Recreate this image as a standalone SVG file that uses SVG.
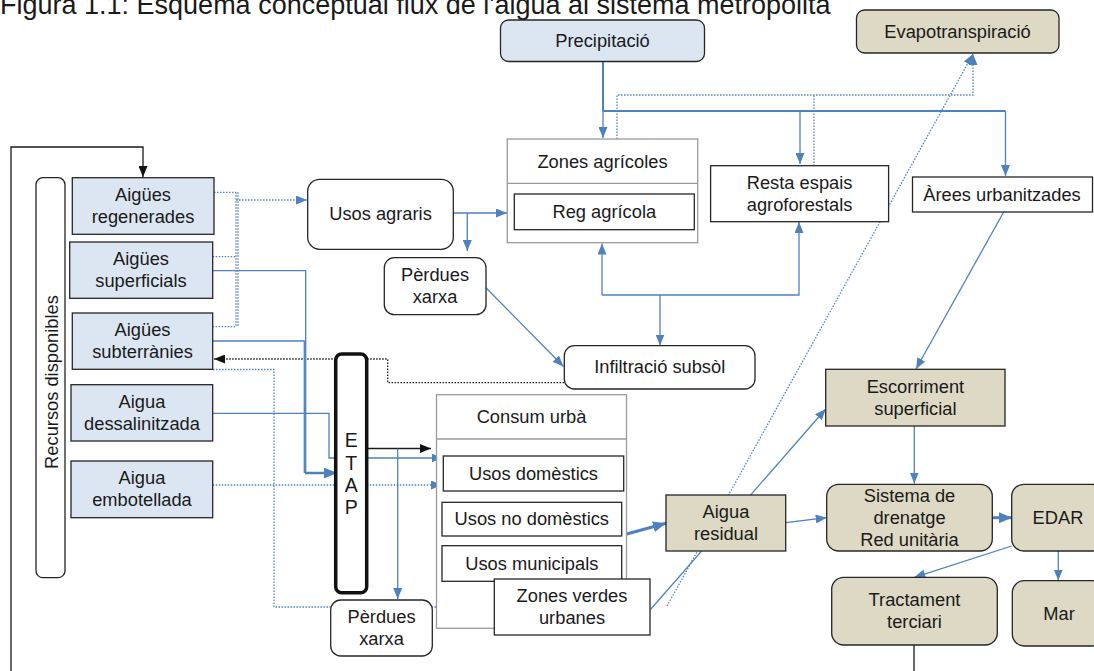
<svg xmlns="http://www.w3.org/2000/svg" width="1094" height="671" viewBox="0 0 1094 671">
<defs>
<style>
text{font-family:"Liberation Sans",Arial,sans-serif;font-size:18.3px;fill:#1a1a1a;text-anchor:middle}
.title{font-size:27px;text-anchor:start}
.etap{font-size:19.5px}
.nb{fill:#dce6f2;stroke:#262626;stroke-width:1.3}
.nt{fill:#ddd9c4;stroke:#262626;stroke-width:1.3}
.nw{fill:#fff;stroke:#262626;stroke-width:1.3}
.ng{fill:#fff;stroke:#9a9a9a;stroke-width:1.3}
.c{fill:none;stroke:#4f81bd;stroke-width:1.3}
.ct{fill:none;stroke:#4f81bd;stroke-width:3}
.cd{fill:none;stroke:#4f81bd;stroke-width:1.3;stroke-dasharray:1.5 1.5}
.kd{fill:none;stroke:#1a1a1a;stroke-width:1.3;stroke-dasharray:1.5 1.5}
.k{fill:none;stroke:#1a1a1a;stroke-width:1.3}
</style>
<marker id="ab" markerWidth="11" markerHeight="9" refX="11" refY="4.5" orient="auto" markerUnits="userSpaceOnUse"><path d="M0,0 L11,4.5 L0,9 z" fill="#4f81bd"/></marker>
<marker id="abt" markerWidth="13" markerHeight="11" refX="13" refY="5.5" orient="auto" markerUnits="userSpaceOnUse"><path d="M0,0 L13,5.5 L0,11 z" fill="#4f81bd"/></marker>
<marker id="ak" markerWidth="11" markerHeight="9" refX="11" refY="4.5" orient="auto" markerUnits="userSpaceOnUse"><path d="M0,0 L11,4.5 L0,9 z" fill="#111"/></marker>
</defs>
<rect width="1094" height="671" fill="#fff"/>
<text class="title" x="0" y="14">Figura 1.1: Esquema conceptual flux de l'aigua al sistema metropolità</text>

<g id="connectors">
<path class="k" d="M914,645 V671"/>
<path class="k" d="M11,671 V147 H143 V177" marker-end="url(#ak)"/>
<path fill="none" stroke="#4f81bd" stroke-width="2" d="M603,61 V111"/>
<path class="c" d="M603,111 V138" marker-end="url(#ab)"/>
<path fill="none" stroke="#4f81bd" stroke-width="2" d="M603,111 H1005.5"/>
<path class="c" d="M800,111 V164" marker-end="url(#ab)"/>
<path class="c" d="M1005.5,111 V176" marker-end="url(#ab)"/>
<path class="cd" d="M617,139 V95 H973 V54" marker-end="url(#ab)"/>
<path class="cd" d="M814,166 V95"/>
<path class="cd" d="M667,606 L973,54" marker-end="url(#ab)"/>
<path class="cd" d="M214,192.3 H236 M212.7,256.7 H236 M212.7,326.7 H236 M236,192.3 V326.7"/>
<path class="cd" d="M238,192.3 V326.7"/>
<path class="cd" stroke-width="2" d="M236,200 H307" marker-end="url(#ab)"/>
<path class="c" d="M453.3,213 H507" marker-end="url(#ab)"/>
<path class="c" d="M467.3,213 V251" marker-end="url(#ab)"/>
<path class="c" d="M486,287.7 L563.5,366.5" marker-end="url(#ab)"/>
<path class="c" d="M602,295 V243.5" marker-end="url(#ab)"/>
<path class="c" d="M602,295 H799 V222" marker-end="url(#ab)"/>
<path class="c" d="M660,295 V345.5" marker-end="url(#ab)"/>
<path class="kd" d="M564,382.7 H387.7 V359 H214" marker-end="url(#ak)"/>
<path class="c" d="M212.7,270.7 H305.7 V473"/>
<path class="c" d="M212.7,341 H304.3 V473"/>
<path fill="none" stroke="#4f81bd" stroke-width="2.5" d="M305,473 H337" marker-end="url(#abt)"/>
<path class="c" d="M212.7,413.3 H329 V458 H336"/>
<path class="c" d="M366.7,458 H442.5" marker-end="url(#ab)"/>
<path class="cd" d="M212.7,485 H336"/>
<path class="cd" d="M366.7,485 H442" marker-end="url(#ab)"/>
<path class="cd" d="M213,369.5 H274 V607 H494" marker-end="url(#ab)"/>
<path class="k" d="M366.7,448.5 H431" marker-end="url(#ak)"/>
<path class="c" d="M397.7,448.5 V599" marker-end="url(#ab)"/>
<path class="ct" d="M626.7,534 L666,523.3" marker-end="url(#abt)"/>
<path class="c" d="M650.7,609.3 L825.7,409" marker-end="url(#ab)"/>
<path class="c" d="M785.7,522.7 L826.7,517.7" marker-end="url(#ab)"/>
<path class="c" d="M1003.7,212 L916,369" marker-end="url(#ab)"/>
<path class="c" d="M914.3,426 V483.5" marker-end="url(#ab)"/>
<path class="ct" d="M992.3,517.7 H1012" marker-end="url(#abt)"/>
<path class="c" d="M1011.7,546 L914.3,577.3" marker-end="url(#ab)"/>
<path class="c" d="M1058.3,551 V580.5" marker-end="url(#ab)"/>
</g>

<g id="precipitacio"><rect class="nb" x="500.5" y="20" width="204" height="41.5" rx="8"/><text x="602.5" y="46.5">Precipitació</text></g>
<g id="evapotranspiracio"><rect class="nt" x="856.5" y="10" width="202.5" height="43" rx="8"/><text x="957.5" y="37.5">Evapotranspiració</text></g>

<g id="recursos"><rect fill="#fff" stroke="#262626" stroke-width="1.3" x="36" y="177.7" width="29" height="400" rx="7"/><text transform="translate(57.5,382) rotate(-90)">Recursos disponibles</text></g>
<g id="regenerades"><rect class="nb" x="72.3" y="177.7" width="141.7" height="56.6"/><text x="143" y="201">Aigües</text><text x="143" y="223">regenerades</text></g>
<g id="superficials"><rect class="nb" x="69.7" y="242" width="143" height="56.3"/><text x="141" y="265">Aigües</text><text x="141" y="287">superficials</text></g>
<g id="subterranies"><rect class="nb" x="72.3" y="313" width="140.4" height="56.3"/><text x="142.5" y="336">Aigües</text><text x="142.5" y="358">subterrànies</text></g>
<g id="dessalinitzada"><rect class="nb" x="71" y="384.7" width="141.7" height="56.3"/><text x="142" y="408">Aigua</text><text x="142" y="430">dessalinitzada</text></g>
<g id="embotellada"><rect class="nb" x="71" y="461" width="141.7" height="56.7"/><text x="142" y="484">Aigua</text><text x="142" y="506">embotellada</text></g>

<g id="usos-agraris"><rect class="nw" x="307.7" y="179.3" width="145.6" height="70" rx="12"/><text x="380.5" y="220">Usos agraris</text></g>
<g id="perdues-xarxa-1"><rect class="nw" x="384.3" y="257.7" width="101.7" height="57" rx="10"/><text x="435" y="281">Pèrdues</text><text x="435" y="303">xarxa</text></g>
<g id="zones-agricoles"><rect class="ng" x="507.3" y="139" width="190.4" height="103.7"/><line x1="507.3" y1="183.3" x2="697.7" y2="183.3" stroke="#9a9a9a" stroke-width="1.3"/><text x="602.5" y="167.5">Zones agrícoles</text></g>
<g id="reg-agricola"><rect class="nw" x="514.3" y="194" width="180" height="35.7"/><text x="604.3" y="218">Reg agrícola</text></g>
<g id="resta-espais"><rect class="nw" x="710.6" y="165.7" width="178" height="56"/><text x="799.6" y="188.7">Resta espais</text><text x="799.6" y="210.7">agroforestals</text></g>
<g id="arees-urbanitzades"><rect class="nw" x="912.5" y="177" width="180" height="35"/><text x="1002" y="200.5">Àrees urbanitzades</text></g>
<g id="infiltracio"><rect class="nw" x="564.3" y="345.7" width="190.7" height="43.3" rx="10"/><text x="659.7" y="373.4">Infiltració subsòl</text></g>

<g id="etap"><rect fill="#fff" stroke="#111" stroke-width="3.5" x="335.7" y="354" width="31" height="238.7" rx="6"/><text class="etap" x="351.2" y="447.3">E</text><text class="etap" x="351.2" y="470">T</text><text class="etap" x="351.2" y="491.7">A</text><text class="etap" x="351.2" y="514">P</text></g>
<g id="perdues-xarxa-2"><rect class="nw" x="330.7" y="600" width="101.6" height="56" rx="10"/><text x="381.5" y="623">Pèrdues</text><text x="381.5" y="645">xarxa</text></g>

<g id="consum-urba"><rect class="ng" x="436.5" y="394.7" width="190" height="233.6"/><line x1="436.5" y1="439" x2="626.5" y2="439" stroke="#9a9a9a" stroke-width="1.3"/><text x="531.5" y="423">Consum urbà</text></g>
<g id="usos-domestics"><rect class="nw" x="443.3" y="456" width="180.4" height="35"/><text x="533.5" y="479.5">Usos domèstics</text></g>
<g id="usos-no-domestics"><rect class="nw" x="442" y="502.3" width="179.7" height="33.7"/><text x="531.8" y="525">Usos no domèstics</text></g>
<g id="usos-municipals"><rect class="nw" x="442" y="545.7" width="179.7" height="35.6"/><text x="531.8" y="569.5">Usos municipals</text></g>
<g id="zones-verdes"><rect class="nw" x="494.3" y="579" width="155.7" height="56"/><text x="572" y="602">Zones verdes</text><text x="572" y="624">urbanes</text></g>

<g id="aigua-residual"><rect class="nt" x="666" y="495" width="119.7" height="56"/><text x="726" y="518">Aigua</text><text x="726" y="540">residual</text></g>
<g id="escorriment"><rect class="nt" x="825.7" y="369.3" width="179.3" height="56.7"/><text x="915.4" y="392.7">Escorriment</text><text x="915.4" y="414.7">superficial</text></g>
<g id="sistema-drenatge"><rect class="nt" x="826.7" y="484.3" width="165.6" height="66.7" rx="12"/><text x="909.5" y="502">Sistema de</text><text x="909.5" y="524">drenatge</text><text x="909.5" y="546">Red unitària</text></g>
<g id="edar"><rect class="nt" x="1011.7" y="484.3" width="92" height="66.7" rx="12"/><text x="1058" y="524">EDAR</text></g>
<g id="tractament"><rect class="nt" x="831.7" y="577.3" width="165.6" height="67.7" rx="12"/><text x="914.5" y="606">Tractament</text><text x="914.5" y="628">terciari</text></g>
<g id="mar"><rect class="nt" x="1012.3" y="580.7" width="92" height="65.3" rx="12"/><text x="1059" y="619.5">Mar</text></g>
</svg>
